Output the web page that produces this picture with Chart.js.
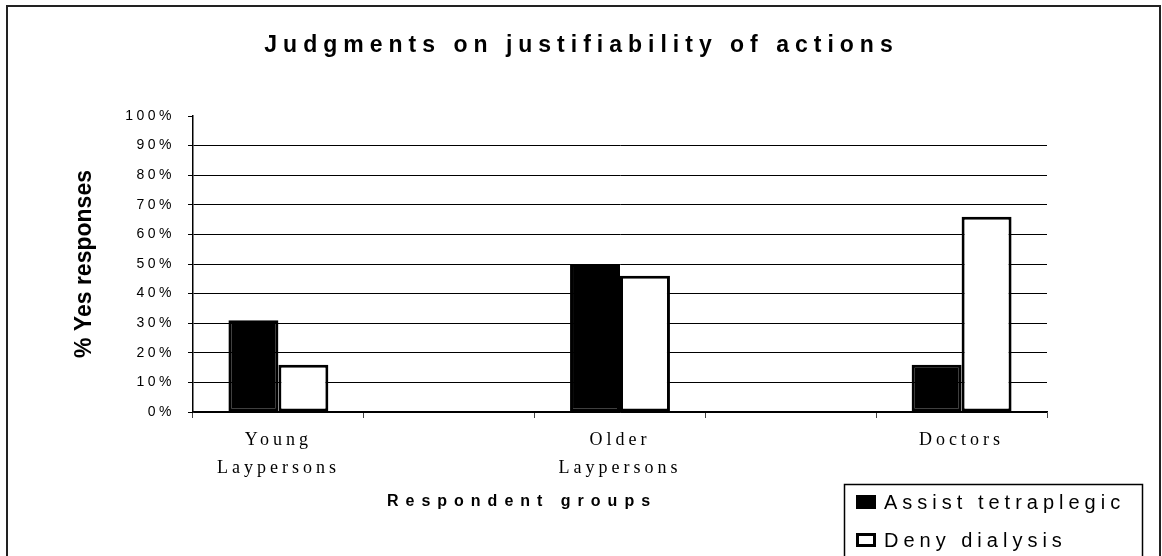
<!DOCTYPE html>
<html>
<head>
<meta charset="utf-8">
<title>Judgments on justifiability of actions</title>
<script src="https://cdn.jsdelivr.net/npm/chart.js@4/dist/chart.umd.min.js"></script>
<style>
    html, body { margin: 0; padding: 0; background: #fff; }
    #wrap { width: 1162px; height: 556px; position: relative; }
</style>
</head>
<body>
<div id="wrap"><canvas id="judgmentsChart"></canvas></div>
<script>
// Respondent groups (empty slots keep the gaps between the groups)
const groups = [['Young', 'Laypersons'], '', ['Older', 'Laypersons'], '', 'Doctors'];
const assistTetraplegic = [31, null, 50, null, 16];
const denyDialysis = [16, null, 46, null, 66];
const percentTicks = [0, 10, 20, 30, 40, 50, 60, 70, 80, 90, 100];

const sans = '"Liberation Sans", Arial, sans-serif';
const serif = '"Liberation Serif", "Times New Roman", serif';

// wraps a draw method so its text gets wider letter spacing
function spaced(obj, method, spacing, shiftX) {
    if (!obj || obj['_sp_' + method]) return;
    const orig = obj[method];
    obj[method] = function (...args) {
        const ctx = this.ctx;
        ctx.save();
        ctx.letterSpacing = spacing;
        if (shiftX) ctx.translate(shiftX, 0);
        orig.apply(this, args);
        ctx.restore();
    };
    obj['_sp_' + method] = true;
}

const spacingPlugin = {
    id: 'spacing',
    beforeDraw(chart) {
        spaced(chart.titleBlock, 'draw', '6px', 58);
        spaced(chart.scales.y, 'drawLabels', '3.5px');
        spaced(chart.scales.x, 'drawLabels', '4px');
        spaced(chart.scales.x, 'drawTitle', '7px', -98);
    }
};

// outer frame and the boxed legend in the lower right
const framePlugin = {
    id: 'frame',
    afterDraw(chart) {
        const ctx = chart.ctx;
        ctx.save();
        ctx.strokeStyle = '#222';
        ctx.lineWidth = 2;
        ctx.strokeRect(7, 6, 1153, 620);

        ctx.lineWidth = 1.5;
        ctx.strokeStyle = '#000';
        ctx.strokeRect(844.5, 484.5, 298, 120);

        ctx.font = '20px ' + sans;
        ctx.letterSpacing = '5px';
        ctx.textBaseline = 'middle';
        chart.data.datasets.forEach((ds, i) => {
            const y = 502 + i * 38;
            ctx.fillStyle = ds.backgroundColor;
            ctx.fillRect(856, y - 7, 20, 14);
            ctx.lineWidth = 3;
            ctx.strokeStyle = ds.borderColor;
            ctx.strokeRect(857.5, y - 5.5, 17, 11);
            ctx.fillStyle = '#000';
            ctx.fillText(ds.label, 884, y + 1);
        });
        ctx.restore();
    }
};

const ctx = document.getElementById('judgmentsChart').getContext('2d');
new Chart(ctx, {
    type: 'bar',
    data: {
        labels: groups,
        datasets: [{
            label: 'Assist tetraplegic',
            data: assistTetraplegic,
            backgroundColor: '#000',
            borderColor: '#000',
            borderWidth: 3,
            borderSkipped: false
        }, {
            label: 'Deny dialysis',
            data: denyDialysis,
            backgroundColor: '#fff',
            borderColor: '#000',
            borderWidth: 3,
            borderSkipped: false
        }]
    },
    options: {
        responsive: true,
        maintainAspectRatio: false,
        animation: false,
        categoryPercentage: 0.585,
        barPercentage: 1,
        layout: {
            padding: { top: 32, left: 0, right: 115, bottom: 0 }
        },
        scales: {
            x: {
                afterFit: s => { s.height = 144; },
                border: { color: '#000', width: 1.5 },
                grid: {
                    drawOnChartArea: false,
                    tickLength: 6,
                    tickColor: '#444',
                    offset: true
                },
                ticks: {
                    color: '#000',
                    font: { family: serif, size: 18, lineHeight: 1.55 },
                    padding: 8,
                    maxRotation: 0,
                    autoSkip: false
                },
                title: {
                    display: true,
                    text: 'Respondent groups',
                    color: '#000',
                    font: { family: sans, size: 16, weight: 'bold', lineHeight: 1.2 },
                    padding: { top: 0, bottom: 44.4 }
                }
            },
            y: {
                min: 0,
                max: 100,
                afterFit: s => { s.width = 193; },
                afterBuildTicks: s => { s.ticks = percentTicks.map(v => ({ value: v })); },
                border: { color: '#000', width: 1.5 },
                grid: {
                    color: c => (c.tick && c.tick.value === 100) ? 'rgba(0,0,0,0)' : '#000',
                    lineWidth: 1,
                    tickLength: 5,
                    tickColor: '#000'
                },
                ticks: {
                    color: '#000',
                    font: { family: sans, size: 14 },
                    padding: 13,
                    callback: v => v + '%'
                },
                title: {
                    display: true,
                    text: '% Yes responses',
                    color: '#000',
                    font: { family: sans, size: 23, weight: 'bold', lineHeight: 1.2 },
                    padding: { top: 71, bottom: 0 }
                }
            }
        },
        plugins: {
            title: {
                display: true,
                text: 'Judgments on justifiability of actions',
                color: '#000',
                font: { family: sans, size: 23, weight: 'bold', lineHeight: 1.2 },
                padding: { top: 0, bottom: 56.4 }
            },
            legend: { display: false },
            tooltip: { enabled: false }
        }
    },
    plugins: [spacingPlugin, framePlugin]
});
</script>
</body>
</html>
